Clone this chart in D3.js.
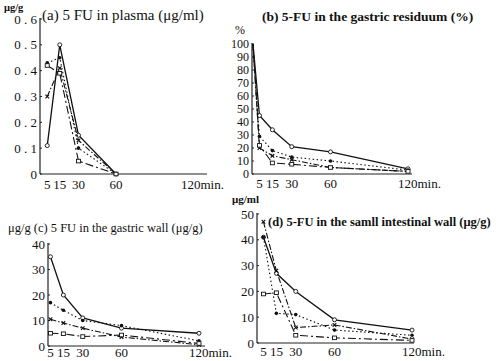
<!DOCTYPE html>
<html>
<head>
<meta charset="utf-8">
<script src="https://cdn.jsdelivr.net/npm/d3@7"></script>
<style>
	body { margin: 0; background: #fff; }
	svg { display: block; }
	text { font-family: "Liberation Serif", "DejaVu Serif", serif; fill: #111; }
</style>
</head>
<body>
<div id="chart"></div>
<script>
/* sampling times (min) */
const timeTicks = [5, 15, 30, 60, 120];
const plasmaTimes = [5, 15, 30, 60];
const residuumTimes = [0, 5, 15, 30, 60, 120];
const wallTimes = [5, 15, 30, 60, 120];

/* (a) plasma, ug/ml */
const plasmaSolid = [0.11, 0.50, 0.15, 0];
const plasmaDotted = [0.43, 0.45, 0.10, 0];
const plasmaDashDot = [0.30, 0.41, 0.13, 0];
const plasmaSquare = [0.42, 0.39, 0.05, 0];

/* (b) gastric residuum, % */
const residuumSolid = [100, 45, 34, 21, 17, 4];
const residuumDotted = [96, 29, 18, 13, 10, 3];
const residuumDashDot = [100, 20, 14, 11, 5, 2];
const residuumSquare = [100, 22, 8.5, 7.5, 5, 2];

/* (c) gastric wall, ug/g */
const gastricSolid = [35, 20, 11, 7, 5];
const gastricDotted = [17, 14, 10, 8, 2];
const gastricDashDot = [10.5, 9, 7, 3.5, 0.5];
const gastricSquare = [5, 4.8, 3.7, 4.3, 1];

/* (d) small intestinal wall, ug/g */
const intestSolid = [41, 27, 20, 9, 5];
const intestDotted = [41, 11.5, 11, 5, 3];
const intestDashDot = [47, 28, 6, 7, 1.5];
const intestSquare = [19, 19.5, 3, 2, 1];

const styles = {
	solid:   { dash: null,          width: 1.3, marker: "circle" },
	dotted:  { dash: "1.5,2.5",     width: 1.1, marker: "dot" },
	dashdot: { dash: "6,2,1.5,2",   width: 1.1, marker: "cross" },
	square:  { dash: "8,3,2,3",     width: 1.1, marker: "square" }
};

const svg = d3.select("#chart").append("svg")
	.attr("width", 496)
	.attr("height", 361);

/* one panel = one little chart with its own scales */
function drawPanel(p) {
	const x = d3.scaleLinear().domain([0, 120]).range(p.xRange);
	const y = d3.scaleLinear().domain(p.yDomain).range(p.yRange);
	const g = svg.append("g");

	/* axes */
	g.append("line")
		.attr("x1", p.axisX).attr("x2", p.axisX)
		.attr("y1", y(p.yDomain[1]) - 1).attr("y2", y(0))
		.attr("stroke", "#222").attr("stroke-width", 1.2);
	g.append("line")
		.attr("x1", p.axisX).attr("x2", p.xEnd)
		.attr("y1", y(0)).attr("y2", y(0))
		.attr("stroke", "#222").attr("stroke-width", 1.2);

	g.selectAll(".ytick").data(p.yTicks).join("text")
		.attr("class", "ytick")
		.attr("x", p.axisX - 3)
		.attr("y", d => y(d))
		.attr("dy", "0.35em")
		.attr("text-anchor", "end")
		.style("font-size", p.tickSize + "px")
		.text(p.yFormat);

	g.selectAll(".ymark").data(p.yTicks).join("line")
		.attr("x1", p.axisX).attr("x2", p.axisX + 2)
		.attr("y1", d => y(d)).attr("y2", d => y(d))
		.attr("stroke", "#222");

	g.selectAll(".xtick").data(timeTicks).join("text")
		.attr("class", "xtick")
		.attr("x", d => d === 120 ? x(d) - 10 : x(d))
		.attr("y", y(0) + p.xLabelGap)
		.attr("text-anchor", d => d === 120 ? "start" : "middle")
		.style("font-size", "13px")
		.text(d => d === 120 ? "120min." : d);

	/* series */
	const line = d3.line().x(d => x(d[0])).y(d => y(d[1]));
	p.series.forEach(s => {
		const st = styles[s.style];
		const pts = p.times.map((t, i) => [t, s.values[i]]);
		g.append("path")
			.attr("d", line(pts))
			.attr("fill", "none")
			.attr("stroke", "#111")
			.attr("stroke-width", st.width)
			.attr("stroke-dasharray", st.dash);

		const m = g.selectAll(null).data(pts.filter(d => d[0] > 0)).join("g")
			.attr("transform", d => `translate(${x(d[0])},${y(d[1])})`);
		if (st.marker === "circle") {
			m.append("circle").attr("r", 2).attr("fill", "#fff").attr("stroke", "#111").attr("stroke-width", 0.9);
		} else if (st.marker === "dot") {
			m.append("circle").attr("r", 1.8).attr("fill", "#111");
		} else if (st.marker === "square") {
			m.append("rect").attr("x", -2).attr("y", -1.8).attr("width", 4).attr("height", 3.6)
				.attr("fill", "#fff").attr("stroke", "#111").attr("stroke-width", 0.9);
		} else {
			m.append("path").attr("d", "M-1.8,-1.8L1.8,1.8M-1.8,1.8L1.8,-1.8")
				.attr("stroke", "#111").attr("stroke-width", 1.1);
		}
	});

	/* labels */
	p.labels.forEach(l => {
		g.append("text")
			.attr("x", l.x).attr("y", l.y)
			.style("font-size", l.size + "px")
			.style("font-weight", l.bold ? "bold" : "normal")
			.text(l.text);
	});
}

drawPanel({
	xRange: [41, 191], axisX: 40, xEnd: 207,
	yDomain: [0, 0.6], yRange: [174, 19],
	yTicks: [0, 0.1, 0.2, 0.3, 0.4, 0.5, 0.6],
	yFormat: d => d === 0 ? "0" : d3.format(".1f")(d).split("").join(" "),
	tickSize: 13,
	xLabelGap: 15,
	times: plasmaTimes,
	series: [
		{ style: "solid", values: plasmaSolid },
		{ style: "dotted", values: plasmaDotted },
		{ style: "dashdot", values: plasmaDashDot },
		{ style: "square", values: plasmaSquare }
	],
	labels: [
		{ x: 4, y: 11, size: 10.5, text: "μg/g", bold: true },
		{ x: 42, y: 20, size: 15, text: "(a)  5  FU in plasma  (μg/ml)" }
	]
});

drawPanel({
	xRange: [253, 408], axisX: 252, xEnd: 412,
	yDomain: [0, 100], yRange: [174, 44],
	yTicks: d3.range(0, 101, 10),
	yFormat: d => d,
	tickSize: 12,
	xLabelGap: 14,
	times: residuumTimes,
	series: [
		{ style: "solid", values: residuumSolid },
		{ style: "dotted", values: residuumDotted },
		{ style: "dashdot", values: residuumDashDot },
		{ style: "square", values: residuumSquare }
	],
	labels: [
		{ x: 235, y: 34, size: 12, text: "%" },
		{ x: 262, y: 21, size: 13.5, text: "(b)  5-FU in the gastric residuum  (%)", bold: true }
	]
});

drawPanel({
	xRange: [44, 199], axisX: 48, xEnd: 205,
	yDomain: [0, 40], yRange: [346, 244],
	yTicks: [0, 10, 20, 30, 40],
	yFormat: d => d,
	tickSize: 13,
	xLabelGap: 11,
	times: wallTimes,
	series: [
		{ style: "solid", values: gastricSolid },
		{ style: "dotted", values: gastricDotted },
		{ style: "dashdot", values: gastricDashDot },
		{ style: "square", values: gastricSquare }
	],
	labels: [
		{ x: 8, y: 232, size: 12.5, text: "μg/g  (c)  5 FU in the gastric wall  (μg/g)" }
	]
});

drawPanel({
	xRange: [257, 412], axisX: 257, xEnd: 414,
	yDomain: [0, 50], yRange: [343, 214],
	yTicks: [0, 10, 20, 30, 40, 50],
	yFormat: d => d,
	tickSize: 13,
	xLabelGap: 13,
	times: wallTimes,
	series: [
		{ style: "solid", values: intestSolid },
		{ style: "dotted", values: intestDotted },
		{ style: "dashdot", values: intestDashDot },
		{ style: "square", values: intestSquare }
	],
	labels: [
		{ x: 232, y: 203, size: 11, text: "μg/ml", bold: true },
		{ x: 268, y: 226, size: 12.5, text: "(d)  5-FU in the samll intestinal wall  (μg/g)", bold: true }
	]
});
</script>
</body>
</html>
